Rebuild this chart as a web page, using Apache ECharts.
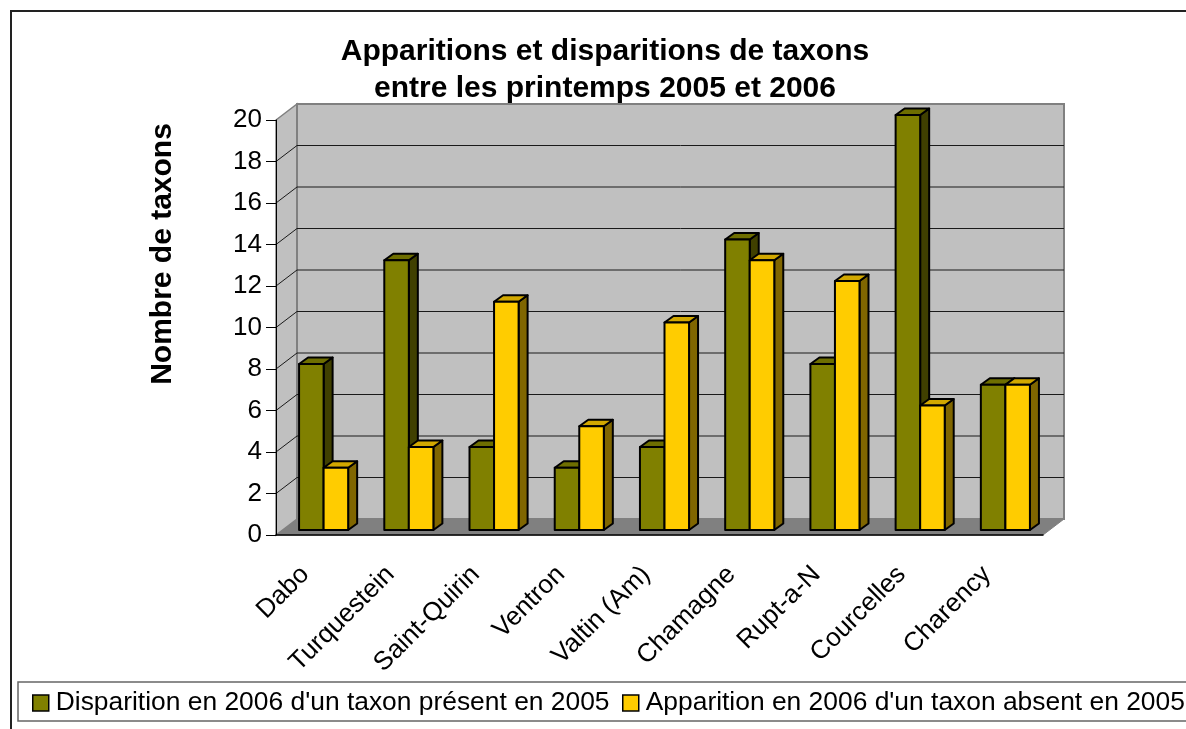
<!DOCTYPE html>
<html><head><meta charset="utf-8">
<script src="https://cdn.jsdelivr.net/npm/echarts@6/dist/echarts.min.js"></script>
<style>html,body{margin:0;padding:0;background:#fff}#chart{width:1186px;height:729px}</style>
</head><body><div id="chart"></div>
<script>
const categories = ['Dabo','Turquestein','Saint-Quirin','Ventron','Valtin (Am)','Chamagne','Rupt-a-N','Courcelles','Charency'];
const disparition = [8,13,4,3,4,14,8,20,7];
const apparition = [3,4,11,5,10,13,12,6,7];
const yTicks = [0,2,4,6,8,10,12,14,16,18,20];
const seriesNames = ["Disparition en 2006 d'un taxon présent en 2005", "Apparition en 2006 d'un taxon absent en 2005"];
const titleLines = ['Apparitions et disparitions de taxons', 'entre les printemps 2005 et 2006'];
const yName = 'Nombre de taxons';

const FONT = '"Liberation Sans", Arial, Helvetica, sans-serif';
const WALL = {dx: 21, dy: -16};
const BAR_SHIFT = {dx: 5, dy: -5};
const BAR_DEPTH = {dx: 9, dy: -6.5};
const BAR_FRAC = 0.288;
const palettes = [
  {front: '#808000', top: '#6e6e00', side: '#404000'},
  {front: '#ffcc00', top: '#d2a800', side: '#806600'}
];

function wallRender(params, api) {
  const cs = params.coordSys;
  const x0 = cs.x, x1 = cs.x + cs.width, yb = cs.y + cs.height, yt = cs.y;
  const d = WALL;
  return {type: 'group', children: [
    {type: 'polygon', shape: {points: [[x0, yb], [x1, yb], [x1 + d.dx, yb + d.dy], [x0 + d.dx, yb + d.dy]]},
     style: {fill: '#808080', stroke: '#808080', lineWidth: 1}},
    {type: 'polygon', shape: {points: [[x0, yt], [x0 + d.dx, yt + d.dy], [x0 + d.dx, yb + d.dy], [x0, yb]]},
     style: {fill: '#c0c0c0', stroke: '#808080', lineWidth: 1.5}},
    {type: 'rect', shape: {x: x0 + d.dx, y: yt + d.dy, width: cs.width, height: cs.height},
     style: {fill: '#c0c0c0', stroke: '#808080', lineWidth: 2}}
  ]};
}

function gridRender(params, api) {
  const v = api.value(0);
  const cs = params.coordSys;
  if (v <= 0 || v >= 20) return {type: 'group', children: []};
  const y = api.coord([0, v])[1];
  const x0 = cs.x, x1 = cs.x + cs.width, d = WALL;
  return {type: 'group', children: [
    {type: 'line', shape: {x1: x0 + d.dx, y1: y + d.dy, x2: x1 + d.dx, y2: y + d.dy}, style: {stroke: '#1a1a1a', lineWidth: 1}},
    {type: 'line', shape: {x1: x0, y1: y, x2: x0 + d.dx, y2: y + d.dy}, style: {stroke: '#1a1a1a', lineWidth: 1}}
  ]};
}

function barRenderer(sIdx) {
  return function (params, api) {
    const ci = api.value(0), v = api.value(1);
    const base = api.coord([ci, 0]);
    const topP = api.coord([ci, v]);
    const bandW = api.size([1, 0])[0];
    const w = bandW * BAR_FRAC;
    const xl = base[0] + BAR_SHIFT.dx + (sIdx === 0 ? -w : 0);
    const xr = xl + w;
    const yb = base[1] + BAR_SHIFT.dy;
    const yt = topP[1] + BAR_SHIFT.dy;
    const dx = BAR_DEPTH.dx, dy = BAR_DEPTH.dy;
    const p = palettes[sIdx];
    const st = (fill) => ({fill: fill, stroke: '#000', lineWidth: 2, lineJoin: 'round'});
    return {type: 'group', children: [
      {type: 'polygon', shape: {points: [[xr, yb], [xr + dx, yb + dy], [xr + dx, yt + dy], [xr, yt]]}, style: st(p.side)},
      {type: 'polygon', shape: {points: [[xl, yt], [xr, yt], [xr + dx, yt + dy], [xl + dx, yt + dy]]}, style: st(p.top)},
      {type: 'rect', shape: {x: xl, y: yt, width: w, height: yb - yt}, style: st(p.front)}
    ]};
  };
}

const legendBase = {
  top: 690, itemWidth: 16, itemHeight: 16, padding: 0, icon: 'rect', selectedMode: false,
  itemStyle: {borderColor: '#000', borderWidth: 1.5},
  textStyle: {fontSize: 26.4, fontFamily: FONT, color: '#000', padding: [0, 0, 0, 2]}
};

const chart = echarts.init(document.getElementById('chart'));
chart.setOption({
  animation: false,
  backgroundColor: '#fff',
  title: {
    text: titleLines.join('\n'), left: 605, top: 33, textAlign: 'center', padding: 0,
    textStyle: {fontSize: 30, fontWeight: 'bold', lineHeight: 37, fontFamily: FONT, color: '#000'}
  },
  legend: [
    Object.assign({}, legendBase, {data: [seriesNames[0]], left: 32}),
    Object.assign({}, legendBase, {data: [seriesNames[1]], left: 622})
  ],
  graphic: [
    {type: 'rect', shape: {x: 11, y: 11, width: 1200, height: 800}, style: {fill: 'none', stroke: '#222', lineWidth: 2}, z: -10},
    {type: 'rect', shape: {x: 18, y: 682, width: 1200, height: 39}, style: {fill: 'none', stroke: '#666', lineWidth: 1.5}, z: -10},
    {type: 'text', x: 163, y: 254, rotation: Math.PI / 2,
     style: {text: yName, font: 'bold 30px ' + FONT, fill: '#000', align: 'center', verticalAlign: 'middle'}}
  ],
  grid: {left: 276, top: 120, width: 767, height: 415, containLabel: false},
  xAxis: {
    type: 'category', data: categories, z: 10,
    axisLine: {lineStyle: {color: '#000', width: 1.5}},
    axisTick: {length: 9, lineStyle: {color: '#222', width: 1}},
    axisLabel: {rotate: 45, fontSize: 26, margin: 22, color: '#000', interval: 0, fontFamily: FONT, padding: [0, 19, 0, 0]},
    splitLine: {show: false}
  },
  yAxis: {
    type: 'value', min: 0, max: 20, interval: 2, z: 10,
    axisLine: {show: true, lineStyle: {color: '#000', width: 1}},
    axisTick: {show: true, length: 10, lineStyle: {color: '#000', width: 1}},
    axisLabel: {fontSize: 26, margin: 14, color: '#000', fontFamily: FONT},
    splitLine: {show: false}
  },
  series: [
    {type: 'custom', name: 'walls', z: 0, silent: true, renderItem: wallRender, data: [[0]], legendHoverLink: false},
    {type: 'custom', name: 'grid', z: 1, silent: true, renderItem: gridRender, data: yTicks.map(v => [v]), encode: {x: -1, y: 0}},
    {type: 'custom', name: seriesNames[0], z: 3, renderItem: barRenderer(0),
     itemStyle: {color: palettes[0].front, borderColor: '#000', borderWidth: 1.5},
     data: disparition.map((v, i) => [i, v])},
    {type: 'custom', name: seriesNames[1], z: 4, renderItem: barRenderer(1),
     itemStyle: {color: palettes[1].front, borderColor: '#000', borderWidth: 1.5},
     data: apparition.map((v, i) => [i, v])}
  ]
});
</script></body></html>
